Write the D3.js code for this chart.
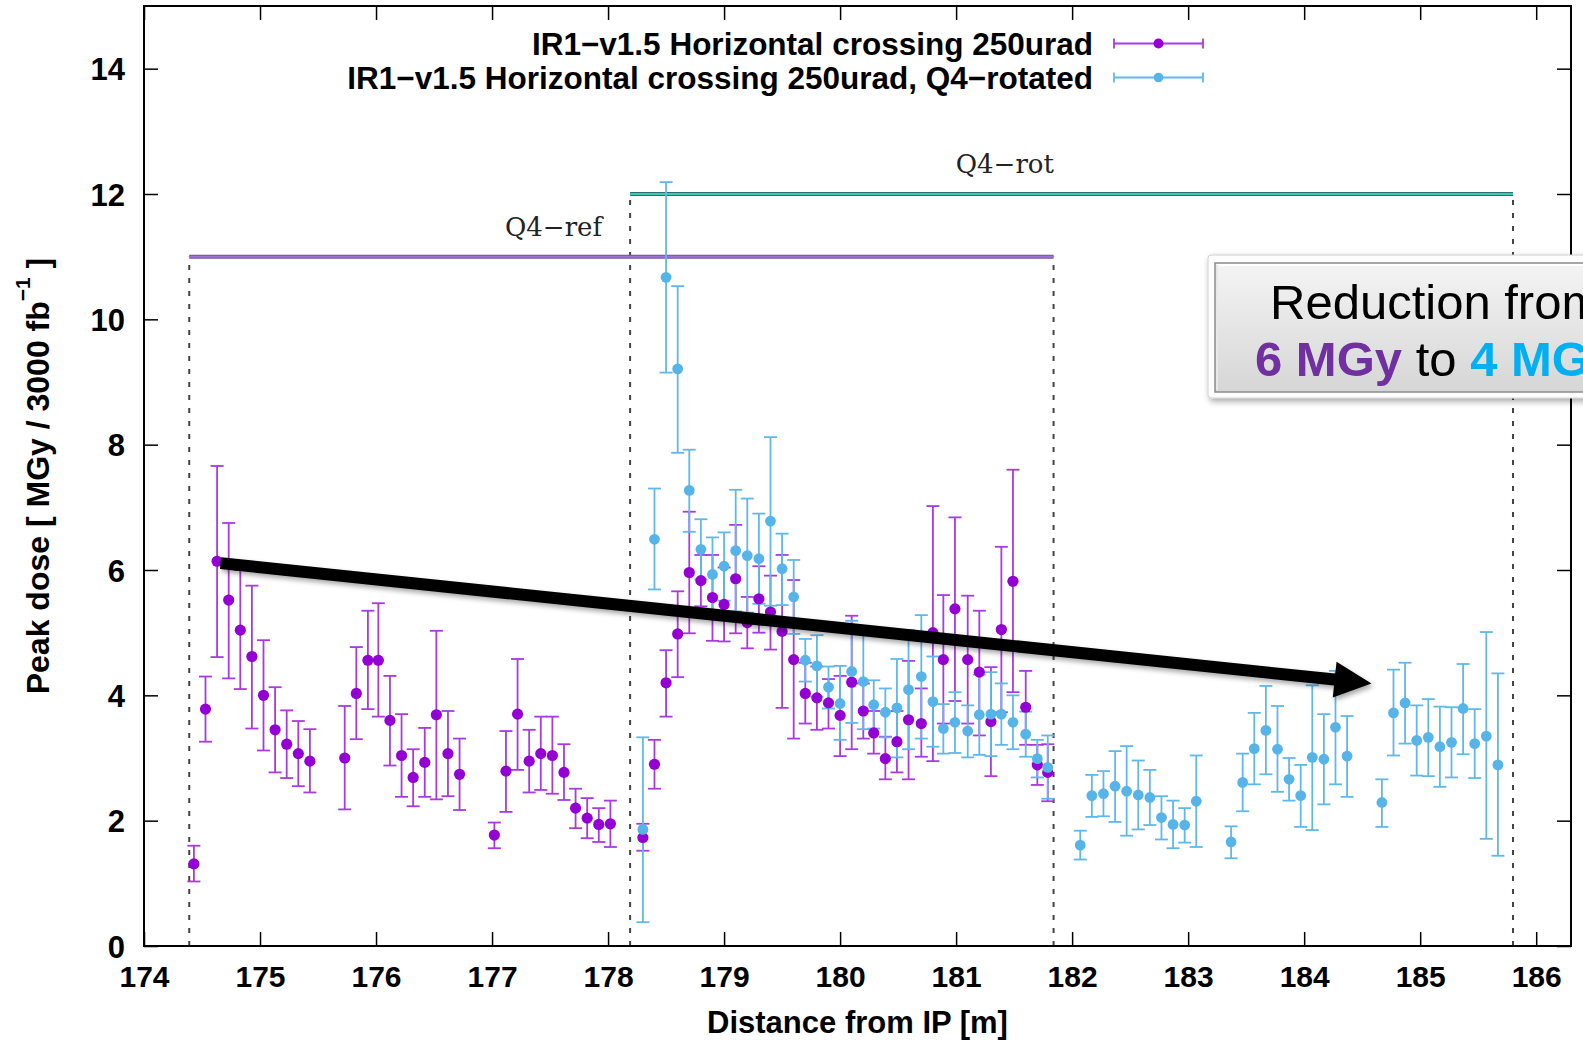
<!DOCTYPE html>
<html><head><meta charset="utf-8">
<script src="https://cdn.jsdelivr.net/npm/d3@7"></script>
<style>
html,body{margin:0;padding:0;background:#fff;}
svg{display:block;}
</style></head>
<body>
<script>
// ---------------- data ----------------
const xTicks = [174,175,176,177,178,179,180,181,182,183,184,185,186];
const yTicks = [0,2,4,6,8,10,12,14];

const seriesNames = ["IR1\u2212v1.5 Horizontal crossing 250urad",
                     "IR1\u2212v1.5 Horizontal crossing 250urad, Q4\u2212rotated"];

const purpleX = [174.43,174.53,174.63,174.73,174.83,174.93,175.03,175.13,175.23,175.33,175.43,
  175.73,175.83,175.93,176.02,176.12,176.22,176.32,176.42,176.52,176.62,176.72,
  177.02,177.12,177.22,177.32,177.42,177.52,177.62,177.72,177.82,177.92,178.02,
  178.30,178.40,178.50,178.60,178.70,178.80,178.90,179.00,179.10,179.20,179.30,179.40,179.50,179.60,
  179.70,179.80,179.90,180.00,180.10,180.20,180.29,180.39,180.49,180.59,180.70,180.80,180.89,180.99,
  181.10,181.20,181.30,181.39,181.49,181.60,181.70,181.79];
const purpleY = [1.31,3.78,6.14,5.52,5.04,4.62,4.00,3.45,3.22,3.07,2.95,
  3.00,4.03,4.56,4.56,3.60,3.04,2.69,2.93,3.69,3.07,2.74,
  1.77,2.79,3.70,2.95,3.07,3.04,2.77,2.20,2.04,1.94,1.95,
  1.73,2.90,4.20,4.98,5.96,5.83,5.56,5.45,5.86,5.16,5.54,5.33,5.02,4.57,
  4.03,3.96,3.88,3.68,4.21,3.75,3.40,2.99,3.26,3.61,3.55,5.00,4.57,5.38,
  4.57,4.37,3.58,5.05,5.82,3.81,2.89,2.77];
const purpleLo = [1.03,3.26,4.61,4.27,4.10,3.47,3.12,2.77,2.68,2.55,2.45,
  2.18,3.30,3.78,3.66,2.88,2.38,2.23,2.38,2.34,2.39,2.17,
  1.56,2.14,2.81,2.45,2.49,2.43,2.33,1.88,1.72,1.66,1.58,
  1.52,2.51,3.66,4.29,4.99,5.42,4.87,4.86,4.99,4.75,5.00,4.73,3.80,3.31,
  3.55,3.45,3.47,3.03,3.14,3.31,3.07,2.66,2.77,2.66,3.02,2.95,3.55,3.91,
  3.55,3.36,2.71,3.73,4.05,3.21,2.57,2.31];
const purpleHi = [1.60,4.30,7.66,6.75,6.00,5.75,4.88,4.13,3.76,3.59,3.46,
  3.83,4.77,5.35,5.47,4.31,3.70,3.14,3.48,5.03,3.75,3.31,
  1.97,3.43,4.58,3.45,3.66,3.66,3.22,2.51,2.36,2.20,2.32,
  1.95,3.29,4.72,5.66,6.93,6.24,6.24,6.04,6.72,5.57,6.06,5.91,6.24,5.84,
  4.52,4.46,4.26,4.31,5.27,4.19,3.75,3.34,3.75,4.55,4.11,7.02,5.60,6.84,
  5.59,5.35,4.45,6.37,7.60,4.39,3.21,3.22];

const cyanX = [178.30,178.40,178.50,178.60,178.70,178.80,178.90,179.00,179.10,179.20,179.30,179.40,179.50,179.60,
  179.70,179.80,179.90,180.00,180.10,180.20,180.29,180.39,180.49,180.59,180.70,180.80,180.89,180.99,
  181.10,181.20,181.30,181.39,181.49,181.60,181.70,181.79,
  182.07,182.17,182.27,182.37,182.47,182.57,182.67,182.77,182.87,182.97,183.07,
  183.37,183.47,183.57,183.67,183.77,183.87,183.97,184.07,184.17,184.27,184.37,
  184.67,184.77,184.87,184.97,185.07,185.17,185.27,185.37,185.47,185.57,185.67];
const cyanY = [1.86,6.49,10.67,9.21,7.27,6.33,5.93,6.06,6.31,6.23,6.18,6.78,6.02,5.57,
  4.56,4.47,4.13,3.87,4.38,4.22,3.85,3.73,3.80,4.09,4.30,3.90,3.47,3.57,
  3.43,3.69,3.70,3.70,3.57,3.38,2.99,2.85,
  1.61,2.40,2.43,2.55,2.47,2.41,2.37,2.05,1.94,1.93,2.31,
  1.66,2.61,3.15,3.44,3.14,2.66,2.40,3.01,2.98,3.49,3.03,
  2.29,3.72,3.88,3.28,3.33,3.18,3.25,3.79,3.23,3.35,2.89];
const cyanLo = [0.38,5.69,9.15,7.87,6.61,5.85,5.34,5.51,5.34,5.32,5.46,5.43,5.44,4.98,
  4.22,3.98,3.79,3.29,3.56,3.46,3.47,3.33,3.01,3.14,3.31,3.18,3.07,3.08,
  3.01,3.05,3.03,3.21,3.14,3.02,2.69,2.35,
  1.38,2.06,2.07,1.98,1.76,1.86,1.93,1.70,1.56,1.65,1.58,
  1.40,2.15,2.58,2.74,2.46,2.32,1.90,1.85,2.26,2.58,2.38,
  1.90,3.04,3.23,2.72,2.71,2.54,2.69,3.06,2.68,1.71,1.44];
const cyanHi = [3.33,7.30,12.19,10.53,7.92,6.81,6.52,6.60,7.28,7.14,6.90,8.12,6.58,6.16,
  4.90,4.96,4.46,4.47,5.19,4.98,4.24,4.11,4.58,5.04,5.28,4.62,3.86,4.05,
  3.84,4.33,4.37,4.19,4.00,3.74,3.29,3.36,
  1.84,2.73,2.79,3.11,3.19,2.96,2.81,2.39,2.32,2.20,3.04,
  1.91,3.07,3.72,4.15,3.83,3.00,2.89,4.16,3.70,4.39,3.67,
  2.66,4.41,4.52,3.84,3.94,3.82,3.81,4.50,3.78,5.01,4.35];

// magnet regions: [label, xStart, xEnd, level]
const regionLabels = ["Q4\u2212ref", "Q4\u2212rot"];
const regionStart  = [174.39, 178.19];
const regionEnd    = [181.84, 185.80];
const regionLevel  = [11, 12];
const regionLabelX = [177.53, 181.42];

// trend arrow (data units)
const arrowFrom = [174.66, 6.11];
const arrowTo   = [184.58, 4.19];

// ---------------- layout ----------------
const W = 1583, H = 1040;
const m = {left:144, right:1571, top:6, bottom:946};
const svg = d3.select("body").append("svg").attr("width", W).attr("height", H);

const x = d3.scaleLinear().domain([174, 186.3]).range([m.left, m.right]);
const y = d3.scaleLinear().domain([0, 15]).range([m.bottom, m.top]);

const defs = svg.append("defs");
defs.append("clipPath").attr("id","plotclip").append("rect")
  .attr("x", m.left).attr("y", m.top).attr("width", m.right-m.left).attr("height", m.bottom-m.top);
const sh = defs.append("filter").attr("id","ashadow").attr("x","-10%").attr("y","-50%").attr("width","120%").attr("height","200%");
sh.append("feDropShadow").attr("dx",2).attr("dy",3).attr("stdDeviation",2.5).attr("flood-color","#000").attr("flood-opacity",0.35);
const bs = defs.append("filter").attr("id","bshadow").attr("x","-10%").attr("y","-20%").attr("width","130%").attr("height","150%");
bs.append("feDropShadow").attr("dx",2).attr("dy",3).attr("stdDeviation",3).attr("flood-color","#000").attr("flood-opacity",0.35);
const gr = defs.append("linearGradient").attr("id","boxgrad").attr("x1",0).attr("y1",0).attr("x2",0).attr("y2",1);
gr.append("stop").attr("offset","0%").attr("stop-color","#f4f4f4");
gr.append("stop").attr("offset","100%").attr("stop-color","#d6d6d6");

const fontSans = "'Liberation Sans', Arial, Helvetica, sans-serif";

// ---------------- axes ----------------
const gx = svg.append("g").attr("transform", `translate(0,${m.bottom})`)
  .call(d3.axisBottom(x).tickValues(xTicks).tickFormat(d3.format("d")).tickSize(-14).tickPadding(20));
const gxt = svg.append("g").attr("transform", `translate(0,${m.top})`)
  .call(d3.axisTop(x).tickValues(xTicks).tickFormat("").tickSize(-14));
const gy = svg.append("g").attr("transform", `translate(${m.left},0)`)
  .call(d3.axisLeft(y).tickValues(yTicks).tickFormat(d3.format("d")).tickSize(-14).tickPadding(19));
const gyr = svg.append("g").attr("transform", `translate(${m.right},0)`)
  .call(d3.axisRight(y).tickValues(yTicks).tickFormat("").tickSize(-14));
[gx,gxt,gy,gyr].forEach(g => {
  g.select(".domain").remove();
  g.selectAll(".tick line").attr("stroke","#000").attr("stroke-width",1.5);
  g.selectAll(".tick text").attr("font-family",fontSans).attr("font-weight","bold")
    .attr("font-size",30).attr("fill","#000");
});
gy.selectAll(".tick text").attr("dy","0.36em").attr("font-size",31);

// ---------------- region markers ----------------
const reg = svg.append("g");
regionLabels.forEach((lab, i) => {
  [regionStart[i], regionEnd[i]].forEach(xv => {
    reg.append("line").attr("x1", x(xv)).attr("x2", x(xv)).attr("y1", y(0)).attr("y2", y(regionLevel[i]))
      .attr("stroke","#444").attr("stroke-width",2).attr("stroke-dasharray","5,8");
  });
});
const regCol = [["#6e5a88","#a070dc"],["#2f6f6a","#3cc8b6"]];
regionLabels.forEach((lab, i) => {
  reg.append("line").attr("x1", x(regionStart[i])).attr("x2", x(regionEnd[i]))
    .attr("y1", y(regionLevel[i])).attr("y2", y(regionLevel[i]))
    .attr("stroke", regCol[i][0]).attr("stroke-width",4);
  reg.append("line").attr("x1", x(regionStart[i])).attr("x2", x(regionEnd[i]))
    .attr("y1", y(regionLevel[i])).attr("y2", y(regionLevel[i]))
    .attr("stroke", regCol[i][1]).attr("stroke-width",2);
  reg.append("text").attr("x", x(regionLabelX[i])).attr("y", y(regionLevel[i]) - 21)
    .attr("text-anchor","middle").attr("font-family","'DejaVu Serif', 'Liberation Serif', serif")
    .attr("font-size",26).attr("fill","#222").text(lab);
});

// ---------------- series ----------------
function makeSeries(xs, ys, lo, hi){ return xs.map((d,i)=>({x:d, y:ys[i], lo:lo[i], hi:hi[i]})); }
const series = [
  {data: makeSeries(purpleX, purpleY, purpleLo, purpleHi), dot:"#9400d3", bar:"#a83ae0", r:5.6},
  {data: makeSeries(cyanX, cyanY, cyanLo, cyanHi), dot:"#56b4e9", bar:"#60b8ea", r:5.4}
];
const plot = svg.append("g").attr("clip-path","url(#plotclip)");
const cap = 6.5;
series.forEach(s => {
  const g = plot.append("g").attr("stroke", s.bar).attr("stroke-width",1.8).attr("fill","none");
  s.data.forEach(d => {
    g.append("line").attr("x1",x(d.x)).attr("x2",x(d.x)).attr("y1",y(d.lo)).attr("y2",y(d.hi));
    g.append("line").attr("x1",x(d.x)-cap).attr("x2",x(d.x)+cap).attr("y1",y(d.lo)).attr("y2",y(d.lo));
    g.append("line").attr("x1",x(d.x)-cap).attr("x2",x(d.x)+cap).attr("y1",y(d.hi)).attr("y2",y(d.hi));
  });
});
series.forEach(s => {
  plot.append("g").selectAll("circle").data(s.data).join("circle")
    .attr("cx", d=>x(d.x)).attr("cy", d=>y(d.y)).attr("r", s.r).attr("fill", s.dot);
});

// ---------------- frame ----------------
svg.append("rect").attr("x",m.left).attr("y",m.top).attr("width",m.right-m.left).attr("height",m.bottom-m.top)
  .attr("fill","none").attr("stroke","#000").attr("stroke-width",2);

// ---------------- legend ----------------
const leg = svg.append("g");
const legRowY = [43.5, 77.5];
const legTextX = 1093, legL = 1114, legR = 1203;
series.forEach((s,i) => {
  const yy = legRowY[i];
  leg.append("text").attr("x",legTextX).attr("y",yy).attr("dy","0.36em").attr("text-anchor","end")
    .attr("font-family",fontSans).attr("font-weight","bold").attr("font-size",31.5).text(seriesNames[i]);
  const g = leg.append("g").attr("stroke", s.bar).attr("stroke-width",1.8);
  g.append("line").attr("x1",legL).attr("x2",legR).attr("y1",yy).attr("y2",yy);
  g.append("line").attr("x1",legL).attr("x2",legL).attr("y1",yy-5).attr("y2",yy+5);
  g.append("line").attr("x1",legR).attr("x2",legR).attr("y1",yy-5).attr("y2",yy+5);
  leg.append("circle").attr("cx",(legL+legR)/2).attr("cy",yy).attr("r",s.r-0.6).attr("fill",s.dot);
});

// ---------------- trend arrow ----------------
(function(){
  const x0 = x(arrowFrom[0]), y0 = y(arrowFrom[1]);
  const x1 = x(arrowTo[0]), y1 = y(arrowTo[1]);
  const L = Math.hypot(x1-x0, y1-y0), ux = (x1-x0)/L, uy = (y1-y0)/L, nx = -uy, ny = ux;
  const hw = 6, headL = 37, headW = 18;
  const bx = x1 - ux*headL, by = y1 - uy*headL;
  const pts = [
    [x0+nx*hw, y0+ny*hw], [bx+nx*hw, by+ny*hw], [bx+nx*headW, by+ny*headW], [x1,y1],
    [bx-nx*headW, by-ny*headW], [bx-nx*hw, by-ny*hw], [x0-nx*hw, y0-ny*hw]
  ];
  svg.append("path").attr("d", d3.line()(pts)+"Z").attr("fill","#000").attr("filter","url(#ashadow)");
})();

// ---------------- annotation box ----------------
const ann = svg.append("g");
ann.append("rect").attr("x",1208).attr("y",255).attr("width",420).attr("height",143).attr("rx",3)
  .attr("fill","#fdfdfd").attr("stroke","#d0d0d0").attr("stroke-width",1).attr("filter","url(#bshadow)");
ann.append("rect").attr("x",1215).attr("y",263).attr("width",420).attr("height",129)
  .attr("fill","url(#boxgrad)").attr("stroke","#8c8c8c").attr("stroke-width",1.5);
ann.append("line").attr("x1",1217).attr("x2",1640).attr("y1",265).attr("y2",265).attr("stroke","#ffffff").attr("stroke-width",2);
ann.append("line").attr("x1",1217).attr("x2",1217).attr("y1",265).attr("y2",390).attr("stroke","#e8e8e8").attr("stroke-width",2);
ann.append("text").attr("x",1270).attr("y",319).attr("font-family",fontSans).attr("font-size",49)
  .attr("fill","#000").text("Reduction from");
const t2 = ann.append("text").attr("x",1255).attr("y",376).attr("font-family",fontSans).attr("font-size",49);
t2.append("tspan").attr("font-weight","bold").attr("fill","#7030a0").text("6 MGy");
t2.append("tspan").attr("fill","#000").text(" to ");
t2.append("tspan").attr("font-weight","bold").attr("fill","#00b0f0").text("4 MGy");

// ---------------- axis titles ----------------
svg.append("text").attr("x",(m.left+m.right)/2).attr("y",1022).attr("dy","0.36em").attr("text-anchor","middle")
  .attr("font-family",fontSans).attr("font-weight","bold").attr("font-size",31).text("Distance from IP [m]");
const yl = svg.append("text").attr("transform",`translate(37,${(m.top+m.bottom)/2}) rotate(-90)`)
  .attr("text-anchor","middle").attr("dy","0.36em")
  .attr("font-family",fontSans).attr("font-weight","bold").attr("font-size",32);
yl.append("tspan").text("Peak dose [ MGy / 3000 fb");
yl.append("tspan").attr("font-size",21).attr("dy","-0.9em").text("\u22121");
yl.append("tspan").attr("dy","0.6em").text(" ]");
</script>
</body></html>
